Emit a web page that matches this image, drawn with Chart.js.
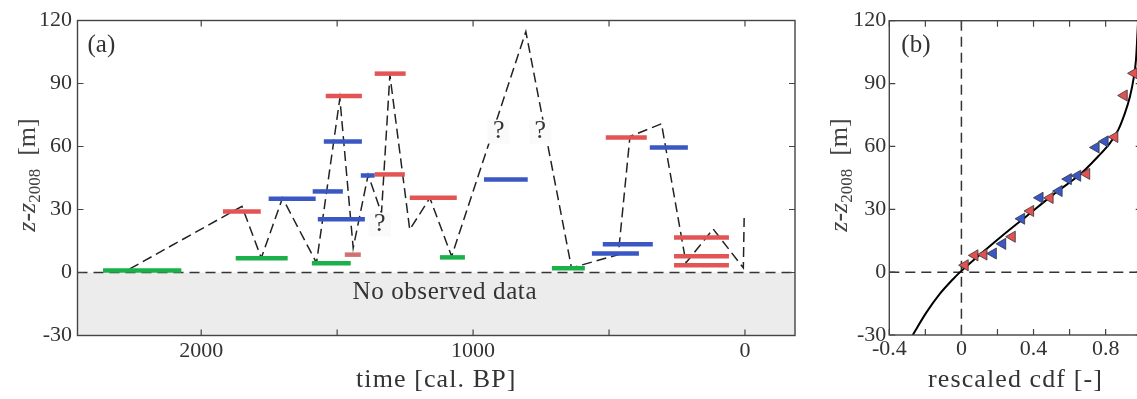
<!DOCTYPE html>
<html><head><meta charset="utf-8">
<script src="https://cdn.jsdelivr.net/npm/chart.js@4.4.1/dist/chart.umd.min.js"></script>
<style>
html,body{margin:0;padding:0;background:#fff;overflow:hidden;width:1137px;height:399px;}
#ca{position:absolute;left:0;top:0;}
#cb{position:absolute;left:820px;top:0;}
</style></head><body>
<canvas id="ca" width="820" height="399"></canvas>
<canvas id="cb" width="330" height="399"></canvas>
<script>
// ---------- Panel (a) data ----------
const redStart = [1920, 1542, 1362, 1362, 1233, 512, 261, 261, 261];
const redEnd   = [1781, 1409, 1248, 1251, 1060, 361, 59, 59, 59];
const redZ     = [29.1, 84.1, 94.7, 46.7, 35.6, 64.3, 16.7, 7.7, 3.4];
const pinkStart = [1472];
const pinkEnd   = [1413];
const pinkZ     = [8.5];
const blueStart = [1752, 1590, 1571, 1549, 1413, 960, 563, 523, 350];
const blueEnd   = [1579, 1479, 1398, 1409, 1362, 799, 390, 339, 210];
const blueZ     = [35.1, 38.6, 25.3, 62.4, 46.2, 44.3, 9.1, 13.4, 59.5];
const greenStart = [2361, 1873, 1593, 1122, 710];
const greenEnd   = [2073, 1682, 1450, 1030, 589];
const greenZ     = [1.0, 6.8, 4.4, 7.2, 2.0];
const pathT = [2263, 1850, 1779, 1701, 1576, 1490, 1441, 1386, 1337, 1306, 1233, 1159, 1079, 806, 638, 466, 423, 307, 217, 117, 6, 3];
const pathZ = [1.7, 31.5, 6.9, 35.5, 4.6, 83.0, 11.7, 46.5, 28.3, 94.1, 20.4, 35.5, 7.7, 114.7, 2.2, 8.5, 64.8, 70.8, 4.6, 20.7, 2.2, 26];
const questionT = [1343, 906, 753];
const questionZ = [22.8, 67.1, 67.1];
const noDataT = 1104, noDataZ = -9.5;
const timeTicks = [2000, 1500, 1000, 500, 0];
const timeLabels = [2000, 1000, 0];
const zTicks = [-30, 0, 30, 60, 90, 120];

// ---------- Panel (b) data ----------
const redCdf  = [0.020, 0.074, 0.124, 0.281, 0.383, 0.491, 0.694, 0.850, 0.902, 0.957];
const redCdfZ = [3.3, 8.0, 8.4, 16.9, 29.2, 35.4, 46.9, 64.5, 84.3, 94.9];
const blueCdf  = [0.176, 0.228, 0.333, 0.435, 0.541, 0.592, 0.644, 0.746, 0.796];
const blueCdfZ = [8.9, 13.5, 25.5, 35.5, 38.7, 44.4, 46.0, 59.5, 62.4];
const curveX = [-0.27, -0.194, -0.121, -0.047, 0, 0.083, 0.213, 0.361, 0.509, 0.657, 0.759, 0.824, 0.870, 0.907, 0.935, 0.957, 0.968, 0.976, 0.98];
const curveZ = [-30, -19.2, -10.5, -3.4, 0.6, 6.9, 16.4, 26.7, 37.0, 46.6, 55.3, 61.6, 67.9, 75.9, 83.8, 93.3, 101.1, 113.1, 120];
const cdfTicks = [-0.4, -0.2, 0, 0.2, 0.4, 0.6, 0.8, 1.0];
const cdfLabels = [-0.4, 0, 0.4, 0.8];

const FONT = '"Liberation Serif", "Times New Roman", serif';
const TXT = '#333';

function segDatasets(starts, ends, zs, color) {
  return starts.map((s, i) => ({
    type: 'line', showLine: true, data: [{x: s, y: zs[i]}, {x: ends[i], y: zs[i]}],
    borderColor: color, borderWidth: 4.5, borderCapStyle: 'butt', pointRadius: 0, order: 1, clip: false
  }));
}

function drawZTitle(ctx, bx, cy) {
  const parts = [
    {t: 'z', f: 'italic 26px ' + FONT, dy: 0},
    {t: '-', f: 'bold 26px ' + FONT, dy: 0},
    {t: 'z', f: 'italic 26px ' + FONT, dy: 0},
    {t: '2008', f: '17px ' + FONT, dy: 5},
    {t: '  [m]', f: '26px ' + FONT, dy: 0}
  ];
  ctx.save();
  let total = 0;
  parts.forEach(p => { ctx.font = p.f; p.w = ctx.measureText(p.t).width; total += p.w; });
  ctx.translate(bx, cy);
  ctx.rotate(-Math.PI / 2);
  ctx.fillStyle = '#444';
  ctx.textBaseline = 'alphabetic';
  let x = -total / 2;
  parts.forEach(p => { ctx.font = p.f; ctx.fillText(p.t, x, p.dy); x += p.w; });
  ctx.restore();
}

function frameTicks(chart) {
  const {ctx, chartArea: a, scales: {x, y}} = chart;
  ctx.save();
  ctx.setLineDash([]);
  ctx.strokeStyle = '#444';
  ctx.lineWidth = 1.4;
  ctx.strokeRect(a.left, a.top, a.right - a.left, a.bottom - a.top);
  const L = 6;
  ctx.lineWidth = 1.2;
  ctx.beginPath();
  x.ticks.forEach(t => {
    const px = x.getPixelForValue(t.value);
    ctx.moveTo(px, a.bottom); ctx.lineTo(px, a.bottom - L);
    ctx.moveTo(px, a.top); ctx.lineTo(px, a.top + L);
  });
  y.ticks.forEach(t => {
    const py = y.getPixelForValue(t.value);
    ctx.moveTo(a.left, py); ctx.lineTo(a.left + L, py);
    ctx.moveTo(a.right, py); ctx.lineTo(a.right - L, py);
  });
  ctx.stroke();
  ctx.restore();
}

function xTitle(ctx, text, cx, baseY) {
  ctx.save();
  ctx.font = '26px ' + FONT;
  try { ctx.letterSpacing = '1.1px'; } catch (e) {}
  ctx.fillStyle = TXT;
  ctx.textAlign = 'center';
  ctx.textBaseline = 'alphabetic';
  ctx.fillText(text, cx, baseY);
  ctx.restore();
}

const plugA = {
  id: 'plugA',
  beforeDatasetsDraw(chart) {
    const {ctx, chartArea: a, scales: {x, y}} = chart;
    const y0 = y.getPixelForValue(0);
    ctx.save();
    ctx.fillStyle = '#ececec';
    ctx.fillRect(a.left, y0, a.right - a.left, a.bottom - y0);
    ctx.fillStyle = TXT;
    ctx.font = '25px ' + FONT;
    try { ctx.letterSpacing = '0.6px'; } catch (e) {}
    ctx.textAlign = 'center';
    ctx.textBaseline = 'middle';
    ctx.fillText('No observed data', x.getPixelForValue(noDataT), y.getPixelForValue(noDataZ));
    ctx.setLineDash([10, 6]);
    ctx.strokeStyle = '#333';
    ctx.lineWidth = 1.5;
    ctx.beginPath(); ctx.moveTo(a.left, y0); ctx.lineTo(a.right, y0); ctx.stroke();
    ctx.restore();
  },
  afterDatasetsDraw(chart) {
    const {ctx, chartArea: a, scales: {x, y}} = chart;
    ctx.save();
    ctx.font = '26px ' + FONT;
    ctx.textAlign = 'center';
    ctx.textBaseline = 'middle';
    questionT.forEach((t, i) => {
      const px = x.getPixelForValue(t), py = y.getPixelForValue(questionZ[i]);
      ctx.fillStyle = '#fafafa';
      ctx.fillRect(px - 11, py - 12, 22, 24);
      ctx.fillStyle = TXT;
      ctx.fillText('?', px, py);
    });
    ctx.font = '25px ' + FONT;
    ctx.textAlign = 'left';
    ctx.fillText('(a)', a.left + 10, a.top + 25);
    ctx.restore();
    frameTicks(chart);
    drawZTitle(ctx, 34.5, 175);
    xTitle(ctx, 'time [cal. BP]', (a.left + a.right) / 2, 387);
  }
};

const plugB = {
  id: 'plugB',
  beforeDatasetsDraw(chart) {
    const {ctx, chartArea: a, scales: {x, y}} = chart;
    const y0 = y.getPixelForValue(0), x0 = x.getPixelForValue(0);
    ctx.save();
    ctx.setLineDash([10, 6]);
    ctx.strokeStyle = '#333';
    ctx.lineWidth = 1.5;
    ctx.beginPath();
    ctx.moveTo(a.left, y0); ctx.lineTo(a.right, y0);
    ctx.moveTo(x0, a.top); ctx.lineTo(x0, a.bottom);
    ctx.stroke();
    ctx.restore();
  },
  afterDatasetsDraw(chart) {
    const {ctx, chartArea: a} = chart;
    ctx.save();
    ctx.font = '25px ' + FONT;
    ctx.fillStyle = TXT;
    ctx.textAlign = 'left';
    ctx.textBaseline = 'middle';
    ctx.fillText('(b)', a.left + 12, a.top + 25);
    ctx.restore();
    frameTicks(chart);
    drawZTitle(ctx, 26.5, 175);
    xTitle(ctx, 'rescaled cdf [-]', (a.left + a.right) / 2, 387);
  }
};

const tickFont = {family: FONT, size: 22};

// ---------- Chart (a) ----------
const dsA = [
  {type: 'line', showLine: true, data: pathT.map((t, i) => ({x: t, y: pathZ[i]})),
   borderColor: '#222', borderWidth: 1.5, borderDash: [10, 5], pointRadius: 0, tension: 0, order: 10},
  ...segDatasets(greenStart, greenEnd, greenZ, '#1cb04a'),
  ...segDatasets(blueStart, blueEnd, blueZ, '#3a57c4'),
  ...segDatasets(redStart, redEnd, redZ, '#e35555'),
  ...segDatasets(pinkStart, pinkEnd, pinkZ, '#d07272')
];

new Chart(document.getElementById('ca'), {
  type: 'scatter',
  data: {datasets: dsA},
  options: {
    responsive: false, animation: false, events: [],
    layout: {padding: {left: 0, right: 25, top: 20.5, bottom: 0}},
    plugins: {legend: {display: false}, tooltip: {enabled: false}},
    scales: {
      x: {
        type: 'linear', reverse: true, min: -184, max: 2455,
        grid: {display: false, drawTicks: false}, border: {display: false},
        afterBuildTicks: s => { s.ticks = timeTicks.map(v => ({value: v})); },
        ticks: {callback: v => timeLabels.includes(v) ? String(v) : '', font: tickFont, color: TXT,
                padding: 3, maxRotation: 0, autoSkip: false},
        afterFit: s => { s.height = 63.5; }
      },
      y: {
        type: 'linear', min: -30, max: 120,
        grid: {display: false, drawTicks: false}, border: {display: false},
        afterBuildTicks: s => { s.ticks = zTicks.map(v => ({value: v})); },
        ticks: {callback: v => String(v), font: tickFont, color: TXT, padding: 5.5},
        afterFit: s => { s.width = 77.5; }
      }
    }
  },
  plugins: [plugA]
});

// ---------- Chart (b) ----------
const triBase = {type: 'scatter', showLine: false, pointStyle: 'triangle', rotation: -90,
                 pointRadius: 6.4, pointBorderColor: '#333', pointBorderWidth: 0.8, order: 1, clip: false};
new Chart(document.getElementById('cb'), {
  type: 'scatter',
  data: {datasets: [
    {type: 'line', showLine: true, data: curveX.map((v, i) => ({x: v, y: curveZ[i]})),
     borderColor: '#000', borderWidth: 2, pointRadius: 0, tension: 0.35, order: 5},
    Object.assign({}, triBase, {data: blueCdf.map((v, i) => ({x: v, y: blueCdfZ[i]})),
      backgroundColor: '#3a57c8', pointBackgroundColor: '#3a57c8'}),
    Object.assign({}, triBase, {data: redCdf.map((v, i) => ({x: v, y: redCdfZ[i]})),
      backgroundColor: '#e25252', pointBackgroundColor: '#e25252'})
  ]},
  options: {
    responsive: false, animation: false, events: [],
    layout: {padding: {left: 0, right: 8.3, top: 20.7, bottom: 0}},
    plugins: {legend: {display: false}, tooltip: {enabled: false}},
    scales: {
      x: {
        type: 'linear', min: -0.4, max: 1.0,
        grid: {display: false, drawTicks: false}, border: {display: false},
        afterBuildTicks: s => { s.ticks = cdfTicks.map(v => ({value: v})); },
        ticks: {callback: v => cdfLabels.some(l => Math.abs(l - v) < 1e-9) ? (Math.abs(v) < 1e-9 ? '0' : v.toFixed(1)) : '',
                font: tickFont, color: TXT, padding: 1, maxRotation: 0, autoSkip: false},
        afterFit: s => { s.height = 64; }
      },
      y: {
        type: 'linear', min: -30, max: 120,
        grid: {display: false, drawTicks: false}, border: {display: false},
        afterBuildTicks: s => { s.ticks = zTicks.map(v => ({value: v})); },
        ticks: {callback: v => String(v), font: tickFont, color: TXT, padding: 3},
        afterFit: s => { s.width = 69.3; }
      }
    }
  },
  plugins: [plugB]
});
</script>
</body></html>
